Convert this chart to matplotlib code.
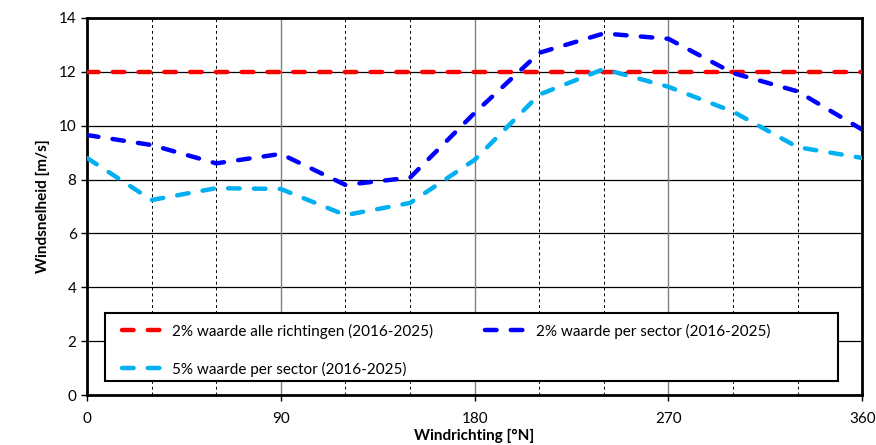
import matplotlib
matplotlib.use('Agg')
import matplotlib.pyplot as plt
from matplotlib.patches import Rectangle

plt.rcParams['font.family'] = ['Lato', 'DejaVu Sans']

# windrichting (graden)
richting = [0, 30, 60, 90, 120, 150, 180, 210, 240, 270, 300, 330, 360]
# 2% waarde alle richtingen
alle_2pct = [12.0] * len(richting)
# 2% waarde per sector
sector_2pct = [9.65, 9.28, 8.6, 8.95, 7.8, 8.07, 10.47, 12.7, 13.42, 13.22, 11.95, 11.27, 9.85]
# 5% waarde per sector
sector_5pct = [8.8, 7.24, 7.68, 7.65, 6.68, 7.13, 8.73, 11.15, 12.1, 11.44, 10.52, 9.2, 8.8]

labels = ["2% waarde alle richtingen (2016-2025)",
          "2% waarde per sector (2016-2025)",
          "5% waarde per sector (2016-2025)"]

fig = plt.figure(figsize=(8.76, 4.45), dpi=100)
ax = fig.add_axes([0.0993, 0.112, 0.885, 0.848])

# grid
for y in range(2, 15, 2):
    ax.axhline(y, color='black', lw=0.9, zorder=1)
for x in range(30, 360, 30):
    if x % 90 == 0:
        ax.axvline(x, color='#808080', lw=1.0, zorder=1)
    else:
        ax.axvline(x, color='black', lw=0.7, ls=(0, (3, 3)), zorder=1)

dash = dict(lw=3.2, dash_capstyle='round', dashes=(2.6, 3.2), zorder=3)
l1, = ax.plot(richting, alle_2pct, color='#ff0000', label=labels[0], **dash)
l2, = ax.plot(richting, sector_2pct, color='#0000ff', label=labels[1], **dash)
l3, = ax.plot(richting, sector_5pct, color='#00b0f0', label=labels[2], **dash)

ax.set_xlim(0, 360)
ax.set_ylim(0, 14)
ax.set_xticks([0, 90, 180, 270, 360])
ax.set_yticks(range(0, 15, 2))
ax.tick_params(axis='both', labelsize=11, direction='out', length=4, width=1)
ax.tick_params(axis='x', pad=8)
for s in ax.spines.values():
    s.set_linewidth(2)
    s.set_color('black')

ax.set_xlabel("Windrichting [°N]", fontsize=11, fontweight='bold', labelpad=2)
ax.set_ylabel("Windsnelheid [m/s]", fontsize=11, fontweight='bold', labelpad=6)

# legend box
ax.add_patch(Rectangle((0.023, 0.037), 0.946, 0.1805, transform=ax.transAxes,
                       facecolor='white', edgecolor='black', lw=1.5, zorder=4))
leg = ax.legend([l1, l3, l2], [labels[0], labels[2], labels[1]], ncol=2,
                loc='upper left', bbox_to_anchor=(0.045, 0.19), borderaxespad=0,
                fontsize=11, frameon=False, handlelength=3.0, borderpad=0,
                labelspacing=1.5, handletextpad=0.3, columnspacing=3.4)
leg.set_zorder(5)

fig.savefig('out.png', dpi=100)
